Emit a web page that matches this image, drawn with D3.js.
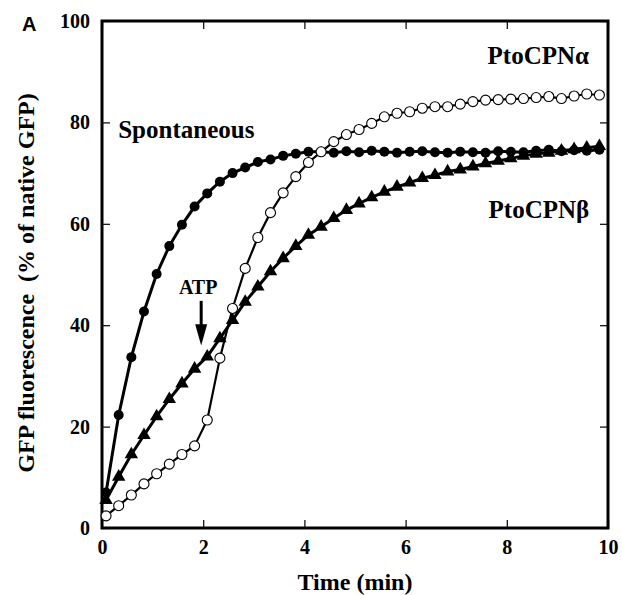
<!DOCTYPE html>
<html>
<head>
<meta charset="utf-8">
<script src="https://cdn.jsdelivr.net/npm/d3@7"></script>
<style>
  body { margin: 0; background: #fff; }
  text { font-family: "Liberation Serif", "Times New Roman", serif; font-weight: bold; fill: #000; }
</style>
</head>
<body>
<script>
// time points (min)
var times = [0.08, 0.33, 0.58, 0.83, 1.08, 1.33, 1.58, 1.83, 2.08, 2.33,
             2.58, 2.83, 3.08, 3.33, 3.58, 3.83, 4.08, 4.33, 4.58, 4.83,
             5.08, 5.33, 5.58, 5.83, 6.08, 6.33, 6.58, 6.83, 7.08, 7.33,
             7.58, 7.83, 8.08, 8.33, 8.58, 8.83, 9.08, 9.33, 9.58, 9.83];

// GFP fluorescence (% of native GFP)
var spontaneous = [7.0, 22.3, 33.7, 42.7, 50.1, 55.6, 59.8, 63.4, 66.0, 68.3,
                   70.0, 71.1, 72.2, 72.7, 73.4, 73.8, 74.2, 74.2, 74.0, 74.3,
                   74.1, 74.4, 74.2, 74.0, 74.2, 74.3, 74.1, 74.0, 74.2, 74.1,
                   74.0, 74.3, 74.2, 74.1, 74.4, 74.6, 74.3, 74.5, 74.4, 74.6];
var cpnAlpha = [2.4, 4.4, 6.5, 8.7, 10.7, 12.6, 14.5, 16.2, 21.3, 33.5,
                43.3, 51.2, 57.3, 62.2, 66.1, 69.3, 72.1, 74.2, 76.2, 77.6,
                78.6, 79.8, 81.1, 81.8, 82.1, 82.8, 83.1, 83.1, 83.6, 84.1,
                84.4, 84.5, 84.6, 84.7, 84.9, 85.1, 84.7, 85.2, 85.6, 85.4];
var cpnBeta = [5.5, 10.1, 14.5, 18.3, 22.0, 25.4, 28.5, 31.4, 33.8, 37.4,
               41.0, 44.6, 47.6, 50.6, 53.2, 55.6, 57.8, 59.4, 61.1, 62.7,
               64.0, 65.2, 66.3, 67.3, 68.1, 69.0, 69.6, 70.3, 70.7, 71.3,
               71.9, 72.4, 72.9, 73.4, 73.8, 74.0, 74.4, 74.7, 75.0, 75.3];

var xTicks = [0, 2, 4, 6, 8, 10];
var yTicks = [0, 20, 40, 60, 80, 100];

var margin = {top: 21, right: 14, bottom: 67, left: 102},
    width = 622 - margin.left - margin.right,
    height = 595 - margin.top - margin.bottom;

var svg = d3.select("body").append("svg")
    .attr("width", 622)
    .attr("height", 595);

var g = svg.append("g")
    .attr("transform", "translate(" + margin.left + "," + margin.top + ")");

var x = d3.scaleLinear().domain([0, 10]).range([0, width]);
var y = d3.scaleLinear().domain([0, 100]).range([height, 0]);

// ticks on all four sides, pointing inward
g.append("g").attr("transform", "translate(0," + height + ")")
    .call(d3.axisBottom(x).tickValues(xTicks).tickSize(-8).tickPadding(12))
    .call(function(a) { a.select(".domain").remove(); });
g.append("g")
    .call(d3.axisTop(x).tickValues(xTicks).tickSize(-8).tickFormat(""))
    .call(function(a) { a.select(".domain").remove(); });
g.append("g")
    .call(d3.axisLeft(y).tickValues(yTicks).tickSize(-8).tickPadding(12))
    .call(function(a) { a.select(".domain").remove(); });
g.append("g").attr("transform", "translate(" + width + ",0)")
    .call(d3.axisRight(y).tickValues(yTicks).tickSize(-8).tickFormat(""))
    .call(function(a) { a.select(".domain").remove(); });

g.selectAll(".tick line").attr("stroke", "#000").attr("stroke-width", 1.2);
g.selectAll(".tick text")
    .style("font-family", "'Liberation Serif', serif")
    .style("font-weight", "bold")
    .style("font-size", "20px");

// frame
g.append("rect")
    .attr("width", width).attr("height", height)
    .attr("fill", "none").attr("stroke", "#000").attr("stroke-width", 3);

var line = d3.line()
    .x(function(d) { return x(d[0]); })
    .y(function(d) { return y(d[1]); });

function pairs(vals) { return times.map(function(t, i) { return [t, vals[i]]; }); }

// spontaneous
g.append("path").datum(pairs(spontaneous))
    .attr("d", line).attr("fill", "none").attr("stroke", "#000").attr("stroke-width", 3);
g.selectAll(".spon").data(pairs(spontaneous)).enter().append("circle")
    .attr("cx", function(d) { return x(d[0]); })
    .attr("cy", function(d) { return y(d[1]); })
    .attr("r", 5).attr("fill", "#000");

// PtoCPN beta
var tri = d3.symbol().type(d3.symbolTriangle).size(78);
g.append("path").datum(pairs(cpnBeta))
    .attr("d", line).attr("fill", "none").attr("stroke", "#000").attr("stroke-width", 3);
g.selectAll(".beta").data(pairs(cpnBeta)).enter().append("path")
    .attr("d", tri)
    .attr("transform", function(d) { return "translate(" + x(d[0]) + "," + y(d[1]) + ")"; })
    .attr("fill", "#000");

// PtoCPN alpha
g.append("path").datum(pairs(cpnAlpha))
    .attr("d", line).attr("fill", "none").attr("stroke", "#000").attr("stroke-width", 2.2);
g.selectAll(".alpha").data(pairs(cpnAlpha)).enter().append("circle")
    .attr("cx", function(d) { return x(d[0]); })
    .attr("cy", function(d) { return y(d[1]); })
    .attr("r", 5).attr("fill", "#fff").attr("stroke", "#000").attr("stroke-width", 1.1);

// ATP arrow
var ax = x(1.96);
g.append("line")
    .attr("x1", ax).attr("x2", ax)
    .attr("y1", y(44.8)).attr("y2", y(39))
    .attr("stroke", "#000").attr("stroke-width", 3);
g.append("path")
    .attr("d", "M" + (ax - 6) + "," + y(40.2) + "L" + (ax + 6) + "," + y(40.2) + "L" + ax + "," + y(36) + "Z")
    .attr("fill", "#000");

// curve labels
g.append("text").attr("x", x(0.32)).attr("y", y(77)).style("font-size", "25px").text("Spontaneous");
g.append("text").attr("x", x(7.62)).attr("y", y(91.5)).style("font-size", "25px").text("PtoCPNα");
g.append("text").attr("x", x(7.64)).attr("y", y(61.1)).style("font-size", "25px").text("PtoCPNβ");
g.append("text").attr("x", x(1.52)).attr("y", y(46.2)).style("font-size", "20px").text("ATP");

// axis titles
svg.append("text")
    .attr("x", margin.left + width / 2).attr("y", 590)
    .attr("text-anchor", "middle").style("font-size", "24px")
    .text("Time (min)");
svg.append("text")
    .attr("transform", "translate(34," + 283 + ") rotate(-90)")
    .attr("text-anchor", "middle").style("font-size", "24px")
    .style("white-space", "pre")
    .text("GFP fluorescence  (% of native GFP)");

// panel letter
svg.append("text")
    .attr("x", 22).attr("y", 31)
    .style("font-family", "'Liberation Sans', Arial, sans-serif")
    .style("font-size", "20px")
    .text("A");
</script>
</body>
</html>
